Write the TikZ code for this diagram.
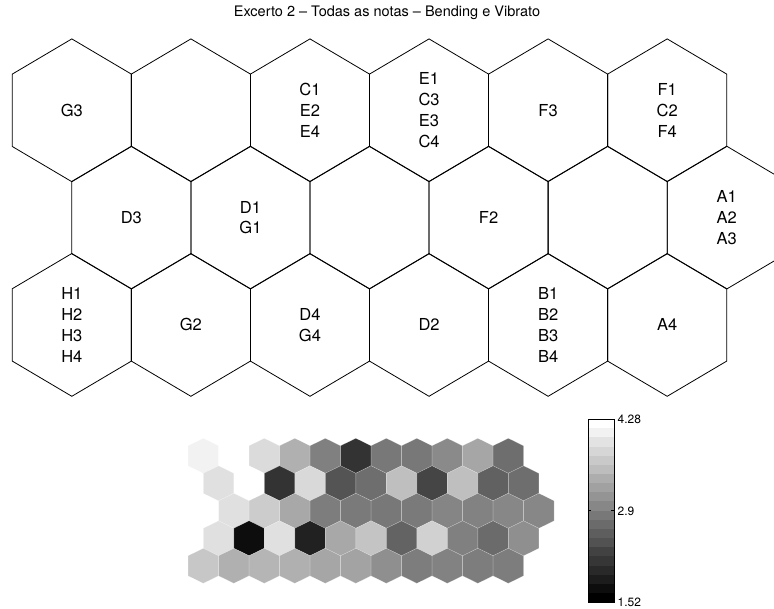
\documentclass[tikz,border=0pt]{standalone}
\usepackage{fontspec}
\setmainfont{TeX Gyre Heros}
\begin{document}
\begin{tikzpicture}[x=1pt,y=-1pt,
  hexline/.style={draw=black, line width=0.8pt, line join=miter},
  lbl/.style={align=center, font=\fontsize{16.5}{20.8}\selectfont, inner sep=0pt},
  ticklbl/.style={anchor=west, inner sep=0pt, font=\fontsize{12}{14}\selectfont},
  bighex/.pic={\path[hexline] (-59.53,-36.2) -- (-59.53,36.2) -- (0,71.4) -- (59.53,36.2) -- (59.53,-36.2) -- (0,-71.4) -- cycle;},
  smallhex/.pic={\path[fill=white!#1!black, draw=white, draw opacity=0.35, line width=0.4pt] (-15.25,-10) -- (-15.25,10) -- (0,17.5) -- (15.25,10) -- (15.25,-10) -- (0,-17.5) -- cycle;}
]
\useasboundingbox (0,0) rectangle (774,608);
\clip (0,0) rectangle (774,608);

% title
\node[inner sep=0pt, font=\fontsize{14.5}{17}\selectfont] (title) at (387,13) {Excerto 2 – Todas as notas – Bending e Vibrato};

% big hexagonal map
\foreach \c in {0,...,5} {
  \pic at ({71.83+119.07*\c},110.3) {bighex};
  \pic at ({131.37+119.07*\c},217.6) {bighex};
  \pic at ({71.83+119.07*\c},324.9) {bighex};
}

% row 1 labels
\node[lbl] (g3) at (71.83,110.3) {G3};
\node[lbl] (c1) at (309.97,110.3) {C1\\E2\\E4};
\node[lbl] (e1) at (429.04,110.3) {E1\\C3\\E3\\C4};
\node[lbl] (f3) at (548.11,110.3) {F3};
\node[lbl] (f1) at (667.18,110.3) {F1\\C2\\F4};
% row 2 labels
\node[lbl] (d3) at (131.37,217.6) {D3};
\node[lbl] (d1) at (250.44,217.6) {D1\\G1};
\node[lbl] (f2) at (488.58,217.6) {F2};
\node[lbl] (a1) at (726.72,217.6) {A1\\A2\\A3};
% row 3 labels
\node[lbl] (h1) at (71.83,324.9) {H1\\H2\\H3\\H4};
\node[lbl] (g2) at (190.9,324.9) {G2};
\node[lbl] (d4) at (309.97,324.9) {D4\\G4};
\node[lbl] (d2) at (429.04,324.9) {D2};
\node[lbl] (b1) at (548.11,324.9) {B1\\B2\\B3\\B4};
\node[lbl] (a4) at (667.18,324.9) {A4};

% U-matrix
\foreach \g [count=\i from 0] in {95,100,86,69,50,20,47,47,54,65,43}
  {\pic at ({203.3+30.5*\i},455.8) {smallhex=\g};}
\foreach \g [count=\i from 0] in {88,100,20,85,33,43,75,27,75,38,43}
  {\pic at ({218.55+30.5*\i},483.3) {smallhex=\g};}
\foreach \g [count=\i from 0] in {88,80,66,49,48,47,48,52,51,53,53}
  {\pic at ({233.8+30.5*\i},510.8) {smallhex=\g};}
\foreach \g [count=\i from 0] in {88,5,88,13,66,77,39,82,50,42,56}
  {\pic at ({218.55+30.5*\i},538.3) {smallhex=\g};}
\foreach \g [count=\i from 0] in {78,69,71,69,65,64,56,49,51,49,49}
  {\pic at ({203.3+30.5*\i},565.8) {smallhex=\g};}

% colour bar
\foreach \k in {0,...,19} {
  \pgfmathtruncatemacro\p{round(100*(19-\k)/19)}
  \fill[white!\p!black] (588.3,{419+9.165*\k}) rectangle (614,{419+9.165*(\k+1)+0.3});
}
\draw[line width=0.6pt] (588.3,419) rectangle (614,602.3);
\draw[line width=0.6pt] (588.3,510.65) -- ++(3,0) (614,510.65) -- ++(-3,0);
\node[ticklbl] (tmax) at (617.5,419.5) {4.28};
\node[ticklbl] (tmid) at (617.5,511.5) {2.9};
\node[ticklbl] (tmin) at (617.5,602) {1.52};
\end{tikzpicture}
\end{document}
